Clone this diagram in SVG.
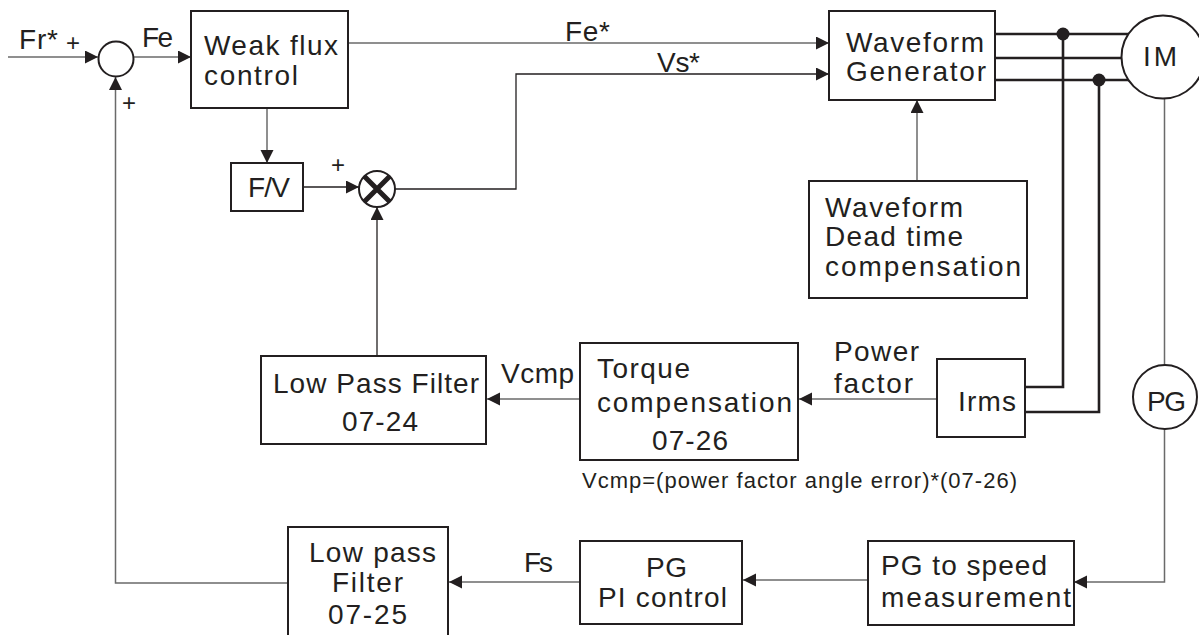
<svg xmlns="http://www.w3.org/2000/svg" width="1199" height="635" viewBox="0 0 1199 635">
<style>
text{font-family:"Liberation Sans",Arial,sans-serif;font-size:28px;fill:#231f20;}
.sm{font-size:22px;}
.pl{font-size:24px;}
.box{fill:#fff;stroke:#231f20;stroke-width:2;}
.ln{fill:none;stroke:#6a6a6a;stroke-width:1.5;}
.lk{fill:none;stroke:#231f20;stroke-width:1.3;}
.th{fill:none;stroke:#231f20;stroke-width:2.6;}
.dot{fill:#231f20;}
.circ{fill:#fff;stroke:#231f20;stroke-width:2;}
</style>
<defs>
<marker id="arr" markerUnits="userSpaceOnUse" markerWidth="14" markerHeight="14" refX="13" refY="6.5" orient="auto">
<path d="M0,0 L13,6.5 L0,13 z" fill="#231f20"/>
</marker>
</defs>
<rect width="1199" height="635" fill="#fff"/>
<g id="connectors">
<path class="ln" d="M8,57 H98" marker-end="url(#arr)"/>
<path class="ln" d="M133.5,57 H191" marker-end="url(#arr)"/>
<path class="ln" d="M348,43 H829" marker-end="url(#arr)"/>
<path class="lk" d="M395,189 H516 V74 H829" marker-end="url(#arr)"/>
<path class="ln" d="M267,108 V163" marker-end="url(#arr)"/>
<path class="lk" d="M303,187 H359" marker-end="url(#arr)"/>
<path class="lk" d="M377,356 V207" marker-end="url(#arr)"/>
<path class="ln" d="M917,181 V100" marker-end="url(#arr)"/>
<path class="th" d="M995,34 H1130"/>
<path class="th" d="M995,58 H1125"/>
<path class="th" d="M995,80 H1130"/>
<path class="th" d="M1025,387 H1063 V34"/>
<path class="th" d="M1025,412 H1099 V80"/>
<path class="ln" d="M1164.5,98 V365"/>
<path class="ln" d="M1164.5,429 V582 H1074" marker-end="url(#arr)"/>
<path class="ln" d="M580,399 H487" marker-end="url(#arr)"/>
<path class="ln" d="M937,399 H799" marker-end="url(#arr)"/>
<path class="ln" d="M868,580 H743" marker-end="url(#arr)"/>
<path class="ln" d="M580,582 H449" marker-end="url(#arr)"/>
<path class="ln" d="M288,583 H115.5 V77" marker-end="url(#arr)"/>
<circle class="dot" cx="1063" cy="34" r="6.5"/>
<circle class="dot" cx="1099" cy="80" r="6.5"/>
</g>
<g id="sum">
<circle class="circ" cx="116" cy="59" r="17.5"/>
<text x="19" y="49" textLength="39" lengthAdjust="spacing">Fr*</text>
<text class="pl" x="66" y="51">+</text>
<text class="pl" x="122" y="111">+</text>
<text x="142" y="47" textLength="31" lengthAdjust="spacing">Fe</text>
</g>
<g id="weakflux">
<rect class="box" x="191" y="11" width="157" height="97"/>
<text x="204" y="55" textLength="134" lengthAdjust="spacing">Weak flux</text>
<text x="204" y="85" textLength="94" lengthAdjust="spacing">control</text>
</g>
<g id="labels-top">
<text x="565" y="41" textLength="45" lengthAdjust="spacing">Fe*</text>
<text x="657" y="72" textLength="43" lengthAdjust="spacing">Vs*</text>
</g>
<g id="wavegen">
<rect class="box" x="829" y="11" width="166" height="89"/>
<text x="846" y="52" textLength="138" lengthAdjust="spacing">Waveform</text>
<text x="846" y="81" textLength="140" lengthAdjust="spacing">Generator</text>
</g>
<g id="im">
<circle class="circ" cx="1163" cy="57" r="41.5"/>
<text x="1143" y="66" textLength="34" lengthAdjust="spacing">IM</text>
</g>
<g id="deadtime">
<rect class="box" x="809" y="181" width="218" height="117"/>
<text x="825" y="217" textLength="138" lengthAdjust="spacing">Waveform</text>
<text x="825" y="246" textLength="138" lengthAdjust="spacing">Dead time</text>
<text x="825" y="276" textLength="196" lengthAdjust="spacing">compensation</text>
</g>
<g id="fv">
<rect class="box" x="231" y="163" width="72" height="48"/>
<text x="248" y="197" textLength="42" lengthAdjust="spacing">F/V</text>
<text class="pl" x="331" y="173">+</text>
</g>
<g id="mult">
<circle class="circ" cx="377" cy="189" r="18"/>
<path d="M364.5,176.5 L389.5,201.5 M389.5,176.5 L364.5,201.5" stroke="#231f20" stroke-width="5"/>
</g>
<g id="lpf1">
<rect class="box" x="261" y="356" width="225" height="88"/>
<text x="273" y="393" textLength="206" lengthAdjust="spacing">Low Pass Filter</text>
<text x="342" y="431" textLength="76" lengthAdjust="spacing">07-24</text>
<text x="501" y="383" textLength="73" lengthAdjust="spacing">Vcmp</text>
</g>
<g id="torque">
<rect class="box" x="580" y="343" width="218" height="117"/>
<text x="597" y="378" textLength="93" lengthAdjust="spacing">Torque</text>
<text x="597" y="412" textLength="195" lengthAdjust="spacing">compensation</text>
<text x="652" y="450" textLength="76" lengthAdjust="spacing">07-26</text>
<text class="sm" x="582" y="488" textLength="435" lengthAdjust="spacing">Vcmp=(power factor angle error)*(07-26)</text>
</g>
<g id="irms">
<rect class="box" x="937" y="359" width="88" height="78"/>
<text x="958" y="411" textLength="58" lengthAdjust="spacing">Irms</text>
<text x="834" y="361" textLength="85" lengthAdjust="spacing">Power</text>
<text x="834" y="393" textLength="79" lengthAdjust="spacing">factor</text>
</g>
<g id="pg">
<circle class="circ" cx="1165" cy="397" r="32"/>
<text x="1147" y="411" textLength="39" lengthAdjust="spacing">PG</text>
</g>
<g id="pgspeed">
<rect class="box" x="868" y="541" width="206" height="84"/>
<text x="881" y="575" textLength="166" lengthAdjust="spacing">PG to speed</text>
<text x="881" y="607" textLength="190" lengthAdjust="spacing">measurement</text>
</g>
<g id="pgpi">
<rect class="box" x="580" y="541" width="162" height="83"/>
<text x="646" y="577" textLength="41" lengthAdjust="spacing">PG</text>
<text x="598" y="607" textLength="129" lengthAdjust="spacing">PI control</text>
<text x="524" y="572" textLength="29" lengthAdjust="spacing">Fs</text>
</g>
<g id="lpf2">
<rect class="box" x="288" y="527" width="160" height="120"/>
<text x="309" y="562" textLength="127" lengthAdjust="spacing">Low pass</text>
<text x="332" y="592" textLength="71" lengthAdjust="spacing">Filter</text>
<text x="328" y="624" textLength="79" lengthAdjust="spacing">07-25</text>
</g>
</svg>
